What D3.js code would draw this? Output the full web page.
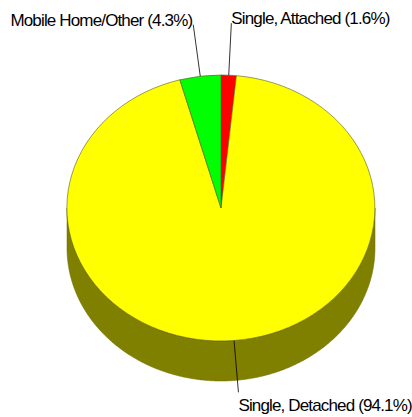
<!DOCTYPE html>
<html>
<head>
<meta charset="utf-8">
<script src="https://cdn.jsdelivr.net/npm/d3@7"></script>
<style>
  body { margin: 0; background: #fff; }
  svg { display: block; }
</style>
</head>
<body>
<div id="chart"></div>
<script>
// 3D pie - housing type

const categories = ["Single, Attached", "Single, Detached", "Mobile Home/Other"];
const shares = [1.6, 94.1, 4.3];
const colors = ["#ff0000", "#ffff00", "#00ff00"];
const sideColors = ["#800000", "#808000", "#008000"];

const width = 412, height = 417;
const cx = 221, cy = 208, rx = 154, ry = 133, depth = 40;

const svg = d3.select("#chart")
    .append("svg")
    .attr("width", width)
    .attr("height", height);

const pie = d3.pie().sort(null).value(d => d);
const arcs = pie(shares);

// point on the ellipse for a pie angle (0 = top, clockwise)
const pt = (a, dy) => [cx + rx * Math.sin(a), cy - ry * Math.cos(a) + (dy || 0)];

// side walls (only the front half shows)
arcs.forEach(function(d, i) {
    const a0 = Math.max(d.startAngle, Math.PI / 2);
    const a1 = Math.min(d.endAngle, Math.PI * 3 / 2);
    if (a1 <= a0) return;
    const steps = d3.range(a0, a1, 0.01).concat([a1]);
    const pts = steps.map(a => pt(a, 0))
        .concat(steps.slice().reverse().map(a => pt(a, depth)));
    svg.append("path")
        .attr("d", d3.line()(pts) + "Z")
        .style("fill", sideColors[i])
        .style("stroke", "#6b6b00")
        .style("stroke-width", 0.5);
});

// top face
const arc = d3.arc().innerRadius(0).outerRadius(1);
svg.append("g")
    .attr("transform", `translate(${cx},${cy}) scale(${rx},${ry})`)
    .selectAll("path")
    .data(arcs)
    .join("path")
      .attr("d", arc)
      .style("fill", (d, i) => colors[i])
      .style("stroke", "#5a5a20")
      .style("stroke-width", 0.6)
      .attr("vector-effect", "non-scaling-stroke");

// leader lines and labels
const lead = 52;
arcs.forEach(function(d, i) {
    const m = (d.startAngle + d.endAngle) / 2;
    const p0 = pt(m, 0);
    const p1 = [p0[0] + lead * Math.sin(m), p0[1] - lead * Math.cos(m)];
    svg.append("line")
        .attr("x1", p0[0]).attr("y1", p0[1])
        .attr("x2", p1[0]).attr("y2", p1[1])
        .style("stroke", "#000")
        .style("stroke-width", 0.8);
    const left = Math.sin(m) < 0;
    const top = Math.cos(m) > 0;
    svg.append("text")
        .attr("x", p1[0] + (left ? -1 : 0))
        .attr("y", top ? p1[1] + 1 : p1[1] + 19)
        .attr("text-anchor", left ? "end" : "start")
        .style("font-family", "Liberation Sans, Arial, sans-serif")
        .style("font-size", "17px")
        .style("letter-spacing", "-0.85px")
        .style("fill", "#000")
        .text(categories[i] + " (" + shares[i].toFixed(1) + "%)");
});
</script>
</body>
</html>
